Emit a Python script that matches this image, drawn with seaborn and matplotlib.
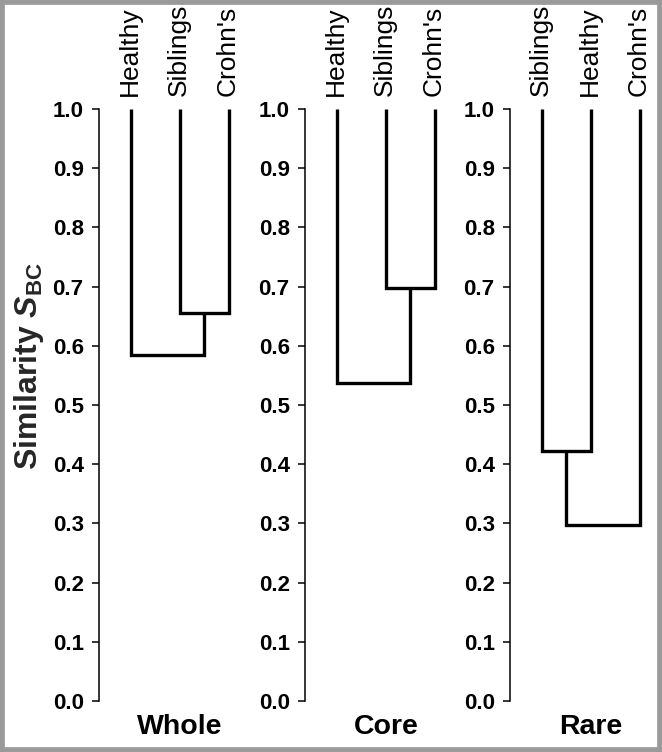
import pandas as pd
import numpy as np
import matplotlib
matplotlib.use("Agg")
import matplotlib.pyplot as plt
from matplotlib.patches import Rectangle
import seaborn as sns

# data
panel_names = ["Whole", "Core", "Rare"]
whole_leaves = ["Healthy", "Siblings", "Crohn's"]
core_leaves = ["Healthy", "Siblings", "Crohn's"]
rare_leaves = ["Siblings", "Healthy", "Crohn's"]
# (first merged pair of leaf positions, first merge height, final merge height)
whole_merge = ((2, 3), 0.655, 0.585)
core_merge = ((2, 3), 0.698, 0.538)
rare_merge = ((1, 2), 0.422, 0.298)
y_ticks = [0.0, 0.1, 0.2, 0.3, 0.4, 0.5, 0.6, 0.7, 0.8, 0.9, 1.0]

sns.set_theme(style="ticks")
plt.rcParams["font.family"] = ["Liberation Sans", "DejaVu Sans"]
plt.rcParams["mathtext.fontset"] = "custom"
plt.rcParams["mathtext.rm"] = "Liberation Sans"
plt.rcParams["mathtext.bf"] = "Liberation Sans:bold"
plt.rcParams["mathtext.it"] = "Liberation Sans:italic"
plt.rcParams["mathtext.bfit"] = "Liberation Sans:bold:italic"


def dendro_segments(merge, top=1.0):
    (a, b), h1, h2 = merge
    other = [i for i in (1, 2, 3) if i not in (a, b)][0]
    mid = (a + b) / 2
    rows = []
    # U shape of the first pair
    for x, y in [(a, top), (a, h1), (b, h1), (b, top)]:
        rows.append({"seg": 0, "x": x, "y": y})
    # second link: lone leaf joined to the pair
    if other < a:
        pts = [(other, top), (other, h2), (mid, h2), (mid, h1)]
    else:
        pts = [(mid, h1), (mid, h2), (other, h2), (other, top)]
    for x, y in pts:
        rows.append({"seg": 1, "x": x, "y": y})
    return pd.DataFrame(rows)


fig = plt.figure(figsize=(6.62, 7.52), dpi=100)

lefts = [99 / 662, 305 / 662, 510 / 662]
bottom = (752 - 701) / 752
height = (701 - 109) / 752
width = 160 / 662

leaves_all = [whole_leaves, core_leaves, rare_leaves]
merges_all = [whole_merge, core_merge, rare_merge]

for left, name, leaves, merge in zip(lefts, panel_names, leaves_all, merges_all):
    ax = fig.add_axes([left, bottom, width, height])
    df = dendro_segments(merge)
    sns.lineplot(data=df, x="x", y="y", units="seg", estimator=None, sort=False,
                 color="black", linewidth=2.4, legend=False, ax=ax)
    for ln in ax.lines:
        ln.set_clip_on(False)
        ln.set_solid_joinstyle("miter")
        ln.set_solid_capstyle("butt")

    ax.set_xlim(0.35, 0.35 + 160 / 49)
    ax.set_ylim(0, 1.0)
    ax.set_yticks(y_ticks)
    ax.set_yticklabels([f"{t:.1f}" for t in y_ticks], fontsize=16, fontweight="bold")
    ax.set_xticks([])
    ax.set_xlabel("")
    ax.set_ylabel("")
    for s in ["top", "right", "bottom"]:
        ax.spines[s].set_visible(False)
    ax.spines["left"].set_linewidth(1.1)
    ax.spines["left"].set_color("black")
    ax.tick_params(axis="y", direction="out", length=5, width=1.1, pad=6, colors="black")
    ax.patch.set_alpha(0)

    for i, lab in enumerate(leaves, start=1):
        ax.annotate(lab, xy=(i, 1.0), xycoords="data", xytext=(-1, 9),
                    textcoords="offset points", rotation=90, ha="center", va="bottom",
                    fontsize=19, color="black")

    ax.annotate(name, xy=(2, 0), xycoords=("data", "axes fraction"), xytext=(0, -19),
                textcoords="offset points", ha="center", va="center",
                fontsize=20.5, fontweight="bold", color="black")

fig.text(29 / 662, 1 - 366 / 752, r"Similarity $\mathbfit{S}_{\mathbf{BC}}$",
         rotation=90, ha="center", va="center", fontsize=23, fontweight="bold")

fig.patches.append(Rectangle((0, 0), 1, 1, transform=fig.transFigure, fill=False,
                             linewidth=7, edgecolor="#9a9a9a"))

fig.savefig("out.png", dpi=100)
